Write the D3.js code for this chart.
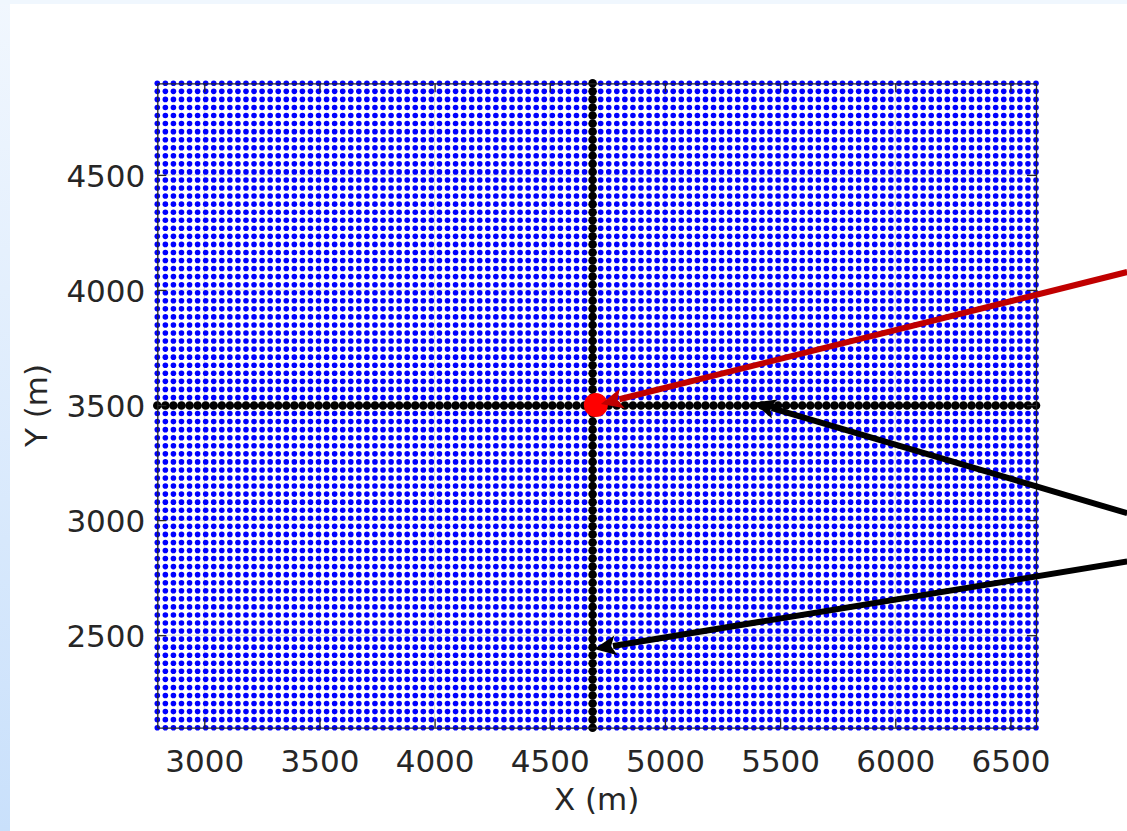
<!DOCTYPE html>
<html><head><meta charset="utf-8">
<script src="https://cdn.jsdelivr.net/npm/d3@7"></script>
<style>html,body{margin:0;padding:0;background:#fff;overflow:hidden}</style>
</head><body>
<script>
// ---- data ----
const meshX0 = 2796, meshY0 = 2098, meshStep = 35, meshNx = 110, meshNy = 81; // regular survey mesh
const xDomain = [2796, 6611];
const yDomain = [2098, 4898];
const xTicks = [3000, 3500, 4000, 4500, 5000, 5500, 6000, 6500];
const yTicks = [2500, 3000, 3500, 4000, 4500];
const profileX = 4686;   // vertical profile (black)
const profileY = 3498;   // horizontal profile (black)
const sourcePoint = [4700, 3500];
const arrowFrom = [[7007, 4078], [7007, 3030], [7007, 2820]];
const arrowTo   = [[4722, 3505], [5385, 3510], [4693, 2440]];
const arrowColor = ["#c00000", "#000000", "#000000"];
const xLabel = "X (m)", yLabel = "Y (m)";

// ---- layout ----
const W = 1127, H = 831;
const svg = d3.select("body").append("svg").attr("width", W).attr("height", H);
const defs = svg.append("defs");
const lg = defs.append("linearGradient").attr("id", "bgGrad").attr("x1", 0).attr("y1", 0).attr("x2", 0).attr("y2", 1);
lg.append("stop").attr("offset", 0).attr("stop-color", "#f1f7fe");
lg.append("stop").attr("offset", 1).attr("stop-color", "#c9e0fb");
svg.append("rect").attr("width", W).attr("height", H).attr("fill", "url(#bgGrad)");
svg.append("rect").attr("x", 0).attr("y", 0).attr("width", W).attr("height", 4).attr("fill", "#f0f7fe");
svg.append("rect").attr("x", 10).attr("y", 4).attr("width", W - 10).attr("height", H - 4).attr("fill", "#ffffff");

const blur = defs.append("filter").attr("id", "soft").attr("x", "-5%").attr("y", "-5%").attr("width", "110%").attr("height", "110%");
blur.append("feGaussianBlur").attr("stdDeviation", 0.5);

const x = d3.scaleLinear().domain(xDomain).range([157.3, 1036]);
const y = d3.scaleLinear().domain(yDomain).range([727.7, 83.3]);

const meshX = d3.range(meshNx).map(i => meshX0 + i * meshStep);
const meshY = d3.range(meshNy).map(j => meshY0 + j * meshStep);

// grid lines
const grid = svg.append("g").attr("stroke", "#dcdcdc").attr("stroke-width", 1);
grid.selectAll("line.gx").data(xTicks).join("line").attr("class", "gx")
  .attr("x1", d => x(d)).attr("x2", d => x(d)).attr("y1", y(yDomain[0])).attr("y2", y(yDomain[1]));
grid.selectAll("line.gy").data(yTicks).join("line").attr("class", "gy")
  .attr("y1", d => y(d)).attr("y2", d => y(d)).attr("x1", x(xDomain[0])).attr("x2", x(xDomain[1]));

// blue mesh points
const pts = [];
meshX.forEach(a => meshY.forEach(b => pts.push([a, b])));
svg.append("g").attr("fill", "#0000ff")
  .selectAll("circle").data(pts).join("circle")
  .attr("cx", d => x(d[0])).attr("cy", d => y(d[1])).attr("r", 2.8);

// black profiles
const prof = svg.append("g").attr("filter", "url(#soft)").attr("fill", "#000");
prof.selectAll("circle.h").data(meshX).join("circle").attr("class", "h")
  .attr("cx", d => x(d)).attr("cy", y(profileY)).attr("r", 4.3);
prof.selectAll("circle.v").data(meshY).join("circle").attr("class", "v")
  .attr("cx", x(profileX)).attr("cy", d => y(d)).attr("r", 4.3);

// source point
svg.append("circle").attr("cx", x(sourcePoint[0])).attr("cy", y(sourcePoint[1])).attr("r", 12).attr("fill", "#ff0000");

// axes box + ticks
const ink = "#262626";
const axB = svg.append("g").attr("transform", `translate(0,${y(yDomain[0])})`)
  .call(d3.axisBottom(x).tickValues(xTicks).tickSize(-9).tickSizeOuter(0).tickFormat(d3.format("d")));
const axT = svg.append("g").attr("transform", `translate(0,${y(yDomain[1])})`)
  .call(d3.axisTop(x).tickValues(xTicks).tickSize(-9).tickSizeOuter(0).tickFormat(""));
const axL = svg.append("g").attr("transform", `translate(${x(xDomain[0])},0)`)
  .call(d3.axisLeft(y).tickValues(yTicks).tickSize(-9).tickSizeOuter(0).tickFormat(d3.format("d")));
const axR = svg.append("g").attr("transform", `translate(${x(xDomain[1])},0)`)
  .call(d3.axisRight(y).tickValues(yTicks).tickSize(-9).tickSizeOuter(0).tickFormat(""));
[axB, axT, axL, axR].forEach(g => {
  g.selectAll("path.domain").attr("stroke", ink).attr("stroke-width", 1.3);
  g.selectAll(".tick line").attr("stroke", ink).attr("stroke-width", 1.3);
  g.selectAll("text").attr("fill", ink).style("font-family", "'DejaVu Sans', sans-serif").style("font-size", "31px");
});
axB.selectAll(".tick text").attr("y", 44.5).attr("dy", null);
axL.selectAll(".tick text").attr("x", -12).attr("dy", "0.36em");

svg.append("text").attr("x", (x(xDomain[0]) + x(xDomain[1])) / 2).attr("y", 810)
  .attr("text-anchor", "middle").attr("fill", ink)
  .style("font-family", "'DejaVu Sans', sans-serif").style("font-size", "31px").text(xLabel);
svg.append("text").attr("transform", `translate(47,${(y(yDomain[0]) + y(yDomain[1])) / 2}) rotate(-90)`)
  .attr("text-anchor", "middle").attr("fill", ink)
  .style("font-family", "'DejaVu Sans', sans-serif").style("font-size", "31px").text(yLabel);

// arrows
const arrowG = svg.append("g");
arrowFrom.forEach((f, i) => {
  const t = arrowTo[i];
  const x1 = x(f[0]), y1 = y(f[1]), x2 = x(t[0]), y2 = y(t[1]);
  const ang = Math.atan2(y2 - y1, x2 - x1);
  const headLen = 22, headW = 10;
  const bx = x2 - headLen * Math.cos(ang), by = y2 - headLen * Math.sin(ang);
  arrowG.append("line").attr("x1", x1).attr("y1", y1).attr("x2", bx + 3 * Math.cos(ang)).attr("y2", by + 3 * Math.sin(ang))
    .attr("stroke", arrowColor[i]).attr("stroke-width", 6);
  const px = -Math.sin(ang), py = Math.cos(ang);
  arrowG.append("path")
    .attr("d", `M${x2},${y2}L${bx + headW * px},${by + headW * py}L${bx + 5 * Math.cos(ang)},${by + 5 * Math.sin(ang)}L${bx - headW * px},${by - headW * py}Z`)
    .attr("fill", arrowColor[i]);
});
</script>
</body></html>
